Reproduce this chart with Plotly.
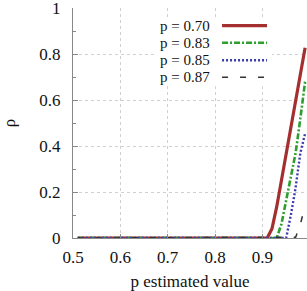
import plotly.graph_objects as go

# Data
x_vals = [0.51, 0.6, 0.7, 0.8, 0.9, 0.91, 0.92, 0.93, 0.94, 0.95, 0.96, 0.97, 0.98, 0.99]
rho_070 = [0, 0, 0, 0, 0, 0, 0.04, 0.135, 0.25, 0.365, 0.48, 0.60, 0.71, 0.827]
rho_083 = [0, 0, 0, 0, 0, 0, 0, 0, 0.06, 0.16, 0.26, 0.37, 0.52, 0.68]
rho_085 = [0, 0, 0, 0, 0, 0, 0, 0, 0, 0, 0.10, 0.22, 0.37, 0.455]
rho_087 = [0, 0, 0, 0, 0, 0, 0, 0, 0, 0, 0, 0.003, 0.06, 0.14]
labels = ["p = 0.70", "p = 0.83", "p = 0.85", "p = 0.87"]
x_ticks = [0.5, 0.6, 0.7, 0.8, 0.9]
y_ticks = [0, 0.2, 0.4, 0.6, 0.8, 1]

colors = ["#a3302f", "#2e9e2e", "#3a3aae", "#333333"]
dashes = ["solid", "6px,2px,2px,2px", "2px,2px", "6px,12px"]
widths = [3.2, 2.6, 2.4, 1.5]

series = [rho_070, rho_083, rho_085, rho_087]
font = "Liberation Serif, Times New Roman, serif"

fig = go.Figure()
for lab, ys, c, d, w in zip(labels, series, colors, dashes, widths):
    fig.add_trace(go.Scatter(x=x_vals, y=ys, mode="lines", name=lab,
                             line=dict(color=c, dash=d, width=w), showlegend=False))

# Legend box (gnuplot style: text left of the sample line)
shapes = [dict(type="rect", xref="paper", yref="paper", x0=0.36, x1=0.85, y0=0.66, y1=0.96,
               fillcolor="white", line=dict(width=0), layer="above")]
annotations = []
leg_y = [0.923, 0.849, 0.773, 0.699]
for lab, c, d, w, yy in zip(labels, colors, dashes, widths, leg_y):
    shapes.append(dict(type="line", xref="paper", yref="paper", x0=0.637, x1=0.829, y0=yy, y1=yy,
                       line=dict(color=c, dash=d, width=w), layer="above"))
    annotations.append(dict(text=lab, xref="paper", yref="paper", x=0.595, y=yy, xanchor="right",
                            yanchor="middle", showarrow=False, font=dict(family=font, size=15, color="#111")))

fig.update_layout(
    width=307, height=291,
    margin=dict(l=73, r=0, t=8, b=53),
    paper_bgcolor="white", plot_bgcolor="white",
    font=dict(family=font, size=17, color="#111"),
    shapes=shapes, annotations=annotations,
    xaxis=dict(range=[0.5, 0.994], tickvals=x_ticks, ticktext=[str(v) for v in x_ticks],
               ticks="inside", ticklen=4, tickcolor="#888",
               showline=True, linecolor="#888", linewidth=1,
               showgrid=True, gridcolor="#d0d0d0", griddash="dot", gridwidth=1,
               zeroline=False, ticklabelstandoff=4, automargin=False, ticklabeloverflow="allow",
               title=dict(text="p estimated value", font=dict(size=17), standoff=8)),
    yaxis=dict(range=[0, 1], tickvals=y_ticks, ticktext=["0", "0.2", "0.4", "0.6", "0.8", "1"],
               ticks="inside", ticklen=5, tickcolor="#888",
               minor=dict(ticks="inside", ticklen=3, tickcolor="#888", dtick=0.1, showgrid=False),
               showline=True, linecolor="#888", linewidth=1,
               showgrid=True, gridcolor="#d0d0d0", griddash="dot", gridwidth=1,
               zeroline=False, ticklabelstandoff=8, automargin=False, ticklabeloverflow="allow",
               title=dict(text="ρ", font=dict(size=17), standoff=22)),
)

fig.write_html("out.html", config={"displayModeBar": False},
               post_script="document.body.style.margin='0';")
